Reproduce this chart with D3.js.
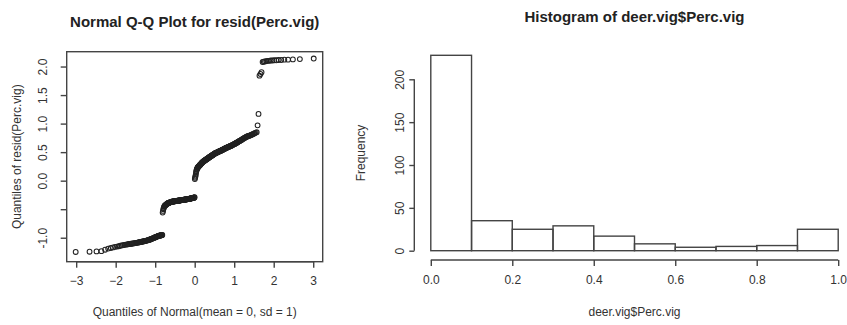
<!DOCTYPE html>
<html>
<head>
<meta charset="utf-8">
<script src="https://cdn.jsdelivr.net/npm/d3@7"></script>
<style>
  body { margin: 0; background: #fff; }
  svg text { font-family: "Liberation Sans", Arial, sans-serif; fill: #333; }
</style>
</head>
<body>
<svg id="chart" width="847" height="325"></svg>
<script>
// sorted residuals, one array per cluster
const residLow = [
  -1.25, -1.245, -1.24, -1.235, -1.21, -1.19, -1.18, -1.17, -1.16, -1.155,
  -1.15, -1.14, -1.135, -1.13, -1.125, -1.12, -1.12, -1.115, -1.11, -1.11,
  -1.105, -1.105, -1.1, -1.1, -1.095, -1.095, -1.09, -1.09, -1.085, -1.085,
  -1.08, -1.08, -1.075, -1.075, -1.07, -1.07, -1.065, -1.065, -1.06, -1.06,
  -1.055, -1.055, -1.05, -1.05, -1.045, -1.045, -1.04, -1.04, -1.035, -1.03,
  -1.03, -1.025, -1.02, -1.02, -1.015, -1.01, -1.01, -1.005, -1.0, -1.0,
  -0.995, -0.99, -0.99, -0.985, -0.98, -0.98, -0.975, -0.975, -0.97, -0.97,
  -0.965, -0.965, -0.965, -0.96, -0.96, -0.96, -0.955, -0.955, -0.95, -0.95
];
const residMidLow = [
  -0.56, -0.53, -0.5, -0.48, -0.46, -0.45, -0.44, -0.435, -0.43, -0.425,
  -0.42, -0.415, -0.41, -0.405, -0.4, -0.4, -0.395, -0.39, -0.39, -0.385,
  -0.385, -0.38, -0.38, -0.38, -0.375, -0.375, -0.375, -0.37, -0.37, -0.37,
  -0.368, -0.366, -0.365, -0.364, -0.363, -0.362, -0.361, -0.36, -0.36, -0.36,
  -0.358, -0.357, -0.356, -0.355, -0.355, -0.354, -0.353, -0.352, -0.352, -0.35,
  -0.35, -0.35, -0.349, -0.348, -0.348, -0.347, -0.346, -0.345, -0.345, -0.344,
  -0.343, -0.342, -0.342, -0.341, -0.34, -0.34, -0.339, -0.338, -0.337, -0.336,
  -0.335, -0.335, -0.334, -0.333, -0.332, -0.331, -0.33, -0.33, -0.329, -0.328,
  -0.327, -0.326, -0.325, -0.325, -0.324, -0.323, -0.322, -0.321, -0.32, -0.32,
  -0.319, -0.318, -0.317, -0.316, -0.315, -0.314, -0.313, -0.312, -0.311, -0.31,
  -0.309, -0.308, -0.307, -0.306, -0.305, -0.304, -0.303, -0.302, -0.3, -0.3,
  -0.298, -0.295, -0.29
];
const residMid = [
  0.03, 0.05, 0.07, 0.09, 0.12, 0.15, 0.17,
  0.19, 0.2, 0.21, 0.22, 0.23, 0.235, 0.24, 0.245, 0.25, 0.255,
  0.26, 0.265, 0.27, 0.275, 0.28, 0.285, 0.29, 0.295, 0.3, 0.305,
  0.31, 0.315, 0.32, 0.325, 0.33, 0.333, 0.336, 0.34, 0.343, 0.346,
  0.35, 0.353, 0.356, 0.36, 0.363, 0.366, 0.37, 0.373, 0.376, 0.38,
  0.383, 0.386, 0.39, 0.393, 0.396, 0.4, 0.403, 0.406, 0.41, 0.413,
  0.416, 0.42, 0.423, 0.426, 0.43, 0.433, 0.436, 0.44, 0.443, 0.446,
  0.45, 0.453, 0.456, 0.46, 0.463, 0.466, 0.47, 0.473, 0.476, 0.48,
  0.482, 0.485, 0.487, 0.49, 0.492, 0.495, 0.497, 0.5, 0.502, 0.505,
  0.507, 0.51, 0.512, 0.515, 0.517, 0.52, 0.522, 0.525, 0.527, 0.53,
  0.533, 0.536, 0.539, 0.542, 0.545, 0.548, 0.551, 0.554, 0.557, 0.56,
  0.563, 0.566, 0.569, 0.572, 0.575, 0.578, 0.581, 0.584, 0.587, 0.59,
  0.593, 0.596, 0.599, 0.602, 0.605, 0.608, 0.611, 0.614, 0.617, 0.62,
  0.624, 0.628, 0.632, 0.636, 0.64, 0.644, 0.648, 0.652, 0.656, 0.66,
  0.665, 0.67, 0.675, 0.68, 0.685, 0.69, 0.695, 0.7, 0.705, 0.71,
  0.716, 0.722, 0.728, 0.734, 0.74, 0.746, 0.752, 0.758, 0.764, 0.77,
  0.774, 0.778, 0.782, 0.786, 0.79, 0.796, 0.802, 0.808, 0.814, 0.82,
  0.827, 0.834, 0.842, 0.85
];
const residHigh = [0.97, 1.17];
const residUpper = [1.84, 1.87, 1.9];
const residTop = [2.08, 2.085, 2.09, 2.095, 2.1, 2.1, 2.105, 2.105, 2.11, 2.11, 2.115, 2.115, 2.12, 2.12, 2.125, 2.13, 2.14];

const qqXTicks = [-3, -2, -1, 0, 1, 2, 3];
const qqYTicks = [-1, -0.5, 0, 0.5, 1, 1.5, 2];
const qqYLabels = ["-1.0", "", "0.0", "0.5", "1.0", "1.5", "2.0"];

const histBreaks = [0, 0.1, 0.2, 0.3, 0.4, 0.5, 0.6, 0.7, 0.8, 0.9, 1.0];
const histCounts = [228, 35, 25, 29, 17, 8, 4, 5, 6, 25];
const histXTicks = [0, 0.2, 0.4, 0.6, 0.8, 1.0];
const histYTicks = [0, 50, 100, 150, 200];

// normal quantile function (Acklam), used for the theoretical quantiles like qqnorm
function qnorm(p) {
  const a = [-3.969683028665376e+01, 2.209460984245205e+02, -2.759285104469687e+02, 1.383577518672690e+02, -3.066479806614716e+01, 2.506628277459239e+00];
  const b = [-5.447609879822406e+01, 1.615858368580409e+02, -1.556989798598866e+02, 6.680131188771972e+01, -1.328068155288572e+01];
  const c = [-7.784894002430293e-03, -3.223964580411365e-01, -2.400758277161838e+00, -2.549732539343734e+00, 4.374664141464968e+00, 2.938163982698783e+00];
  const d = [7.784695709041462e-03, 3.224671290700398e-01, 2.445134137142996e+00, 3.754408661907416e+00];
  const pl = 0.02425;
  let q, r;
  if (p < pl) {
    q = Math.sqrt(-2 * Math.log(p));
    return (((((c[0]*q+c[1])*q+c[2])*q+c[3])*q+c[4])*q+c[5]) / ((((d[0]*q+d[1])*q+d[2])*q+d[3])*q+1);
  }
  if (p > 1 - pl) {
    q = Math.sqrt(-2 * Math.log(1 - p));
    return -(((((c[0]*q+c[1])*q+c[2])*q+c[3])*q+c[4])*q+c[5]) / ((((d[0]*q+d[1])*q+d[2])*q+d[3])*q+1);
  }
  q = p - 0.5; r = q * q;
  return (((((a[0]*r+a[1])*r+a[2])*r+a[3])*r+a[4])*r+a[5])*q / (((((b[0]*r+b[1])*r+b[2])*r+b[3])*r+b[4])*r+1);
}

const svg = d3.select("#chart");
const ink = "#444";
const lw = 1.4;
const fs = 12;

// ---------- Q-Q plot ----------
const resid = [].concat(residLow, residMidLow, residMid, residHigh, residUpper, residTop);
const n = resid.length;
const qqPoints = resid.map((r, i) => [qnorm((i + 0.5) / n), r]);

const qqBox = {left: 66.7, right: 322.7, top: 51.7, bottom: 261.7};
const xq = d3.scaleLinear().domain([-3.24, 3.24]).range([qqBox.left, qqBox.right]);
const yq = d3.scaleLinear().domain([-1.42, 2.26]).range([qqBox.bottom, qqBox.top]);

const qq = svg.append("g").attr("class", "qq");

qq.append("rect")
  .attr("x", qqBox.left).attr("y", qqBox.top)
  .attr("width", qqBox.right - qqBox.left).attr("height", qqBox.bottom - qqBox.top)
  .attr("fill", "none").attr("stroke", ink).attr("stroke-width", lw);

const qqX = qq.append("g")
  .attr("transform", "translate(0," + qqBox.bottom + ")")
  .call(d3.axisBottom(xq).tickValues(qqXTicks).tickSize(6).tickPadding(9).tickFormat(d3.format("d")));
qqX.select(".domain").remove();
qqX.append("line")
  .attr("x1", xq(qqXTicks[0])).attr("x2", xq(qqXTicks[qqXTicks.length - 1]))
  .attr("stroke", ink).attr("stroke-width", lw);

const qqY = qq.append("g")
  .attr("transform", "translate(" + qqBox.left + ",0)")
  .call(d3.axisLeft(yq).tickValues(qqYTicks).tickSize(6).tickFormat((d, i) => qqYLabels[i]));
qqY.select(".domain").remove();
qqY.selectAll("text")
  .attr("transform", "rotate(-90)")
  .attr("x", 0).attr("y", -19.5).attr("dy", 0)
  .attr("text-anchor", "middle");

[qqX, qqY].forEach(g => {
  g.selectAll(".tick line").attr("stroke", ink).attr("stroke-width", lw);
  g.selectAll("text").attr("font-size", fs).attr("fill", "#333");
});
qqX.selectAll("text").attr("dy", "0.71em");

qq.append("g")
  .selectAll("circle")
  .data(qqPoints)
  .enter()
  .append("circle")
  .attr("cx", d => xq(d[0]))
  .attr("cy", d => yq(d[1]))
  .attr("r", 2.4)
  .attr("fill", "none")
  .attr("stroke", "#222")
  .attr("stroke-width", 1.05);

qq.append("text")
  .attr("x", (qqBox.left + qqBox.right) / 2).attr("y", 27)
  .attr("text-anchor", "middle")
  .attr("font-size", 15).attr("font-weight", "bold").style("fill", "#222")
  .text("Normal Q-Q Plot for resid(Perc.vig)");

qq.append("text")
  .attr("x", (qqBox.left + qqBox.right) / 2).attr("y", 316)
  .attr("text-anchor", "middle").attr("font-size", fs)
  .text("Quantiles of Normal(mean = 0, sd = 1)");

qq.append("text")
  .attr("transform", "translate(21," + ((qqBox.top + qqBox.bottom) / 2) + ") rotate(-90)")
  .attr("text-anchor", "middle").attr("font-size", fs)
  .text("Quantiles of resid(Perc.vig)");

// ---------- Histogram ----------
const bins = histCounts.map((c, i) => ({x0: histBreaks[i], x1: histBreaks[i + 1], count: c}));

const xh = d3.scaleLinear().domain([-0.04, 1.04]).range([414.5, 854.5]);
const yh = d3.scaleLinear().domain([0, 200]).range([250.7, 79.3]);

const hist = svg.append("g").attr("class", "hist");

hist.selectAll("rect")
  .data(bins)
  .enter()
  .append("rect")
  .attr("x", d => xh(d.x0))
  .attr("y", d => yh(d.count))
  .attr("width", d => xh(d.x1) - xh(d.x0))
  .attr("height", d => yh(0) - yh(d.count))
  .attr("fill", "none")
  .attr("stroke", ink)
  .attr("stroke-width", lw);

const hX = hist.append("g")
  .attr("transform", "translate(0,260)")
  .call(d3.axisBottom(xh).tickValues(histXTicks).tickSize(6).tickPadding(9).tickFormat(d3.format(".1f")));
hX.select(".domain").remove();
hX.append("line")
  .attr("x1", xh(histXTicks[0])).attr("x2", xh(histXTicks[histXTicks.length - 1]))
  .attr("stroke", ink).attr("stroke-width", lw);

const hY = hist.append("g")
  .attr("transform", "translate(414.3,0)")
  .call(d3.axisLeft(yh).tickValues(histYTicks).tickSize(5).tickFormat(d3.format("d")));
hY.select(".domain").remove();
hY.append("line")
  .attr("y1", yh(histYTicks[0])).attr("y2", yh(histYTicks[histYTicks.length - 1]))
  .attr("stroke", ink).attr("stroke-width", lw);
hY.selectAll("text")
  .attr("transform", "rotate(-90)")
  .attr("x", 0).attr("y", -10).attr("dy", 0)
  .attr("text-anchor", "middle");

[hX, hY].forEach(g => {
  g.selectAll(".tick line").attr("stroke", ink).attr("stroke-width", lw);
  g.selectAll("text").attr("font-size", fs).attr("fill", "#333");
});
hX.selectAll("text").attr("dy", "0.71em");

hist.append("text")
  .attr("x", 634.5).attr("y", 22)
  .attr("text-anchor", "middle")
  .attr("font-size", 15).attr("font-weight", "bold").style("fill", "#222")
  .text("Histogram of deer.vig$Perc.vig");

hist.append("text")
  .attr("x", 634.5).attr("y", 316)
  .attr("text-anchor", "middle").attr("font-size", fs)
  .text("deer.vig$Perc.vig");

hist.append("text")
  .attr("transform", "translate(365,153) rotate(-90)")
  .attr("text-anchor", "middle").attr("font-size", fs)
  .text("Frequency");
</script>
</body>
</html>
